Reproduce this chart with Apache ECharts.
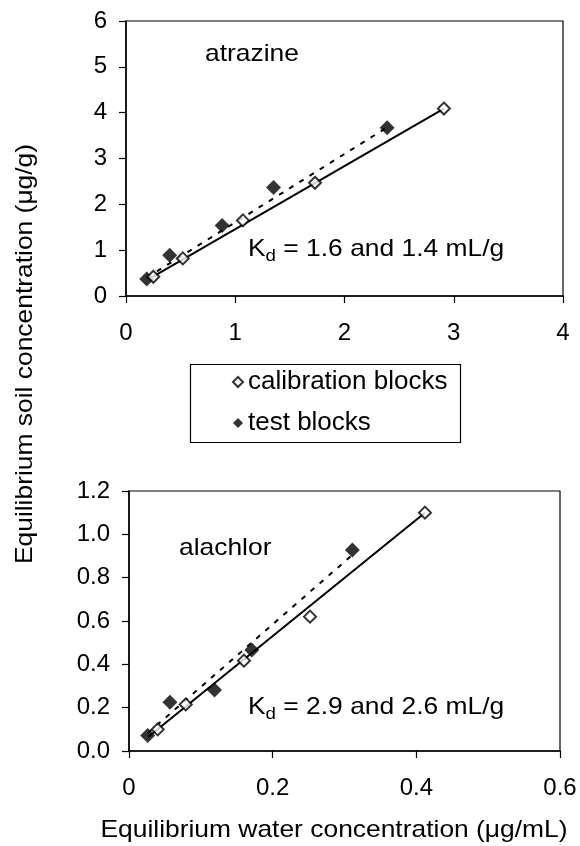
<!DOCTYPE html>
<html>
<head>
<meta charset="utf-8">
<script src="https://cdn.jsdelivr.net/npm/echarts@6/dist/echarts.min.js"></script>
<style>
html,body{margin:0;padding:0;background:#fff;}
#chart{width:580px;height:846px;}
</style>
</head>
<body>
<div id="chart"></div>
<script>
// ---- Data ----
// Atrazine panel
const atrazineCalX  = [0.25, 0.52, 1.07, 1.73, 2.91];
const atrazineCalY  = [0.42, 0.82, 1.65, 2.47, 4.09];
const atrazineTestX = [0.19, 0.40, 0.88, 1.35, 2.39];
const atrazineTestY = [0.37, 0.89, 1.54, 2.37, 3.67];
const atrazineCalFitX  = [0.24, 2.91];
const atrazineCalFitY  = [0.41, 4.09];
const atrazineTestFitX = [0.19, 2.39];
const atrazineTestFitY = [0.40, 3.68];
// Alachlor panel
const alachlorCalX  = [0.040, 0.079, 0.160, 0.252, 0.412];
const alachlorCalY  = [0.100, 0.215, 0.417, 0.620, 1.100];
const alachlorTestX = [0.026, 0.057, 0.119, 0.171, 0.311];
const alachlorTestY = [0.071, 0.225, 0.282, 0.466, 0.928];
const alachlorCalFitX  = [0.027, 0.412];
const alachlorCalFitY  = [0.066, 1.100];
const alachlorTestFitX = [0.026, 0.311];
const alachlorTestFitY = [0.082, 0.905];

const legendNames = ['calibration blocks', 'test blocks'];
const panelLabels = ['atrazine', 'alachlor'];
const kdLabels = ['= 1.6 and 1.4 mL/g', '= 2.9 and 2.6 mL/g'];
const xTitle = 'Equilibrium water concentration (\u03bcg/mL)';
const yTitle = 'Equilibrium soil concentration (\u03bcg/g)';

function pairs(xs, ys) { return xs.map((x, i) => [x, ys[i]]); }

const FONT = "'Liberation Sans', Arial, sans-serif";
const TICK_FS = 24;
const TXT_FS = 24;
const STRETCH = 1.1;

function valueAxis(gridIndex, min, max, interval, fmt, isX) {
  return {
    type: 'value', gridIndex, min, max, interval,
    axisLine: { show: true, onZero: false, lineStyle: { color: '#000', width: 1.5 } },
    axisTick: { show: true, inside: false, length: 7, lineStyle: { color: '#000', width: 1.2 } },
    axisLabel: { color: '#000', fontFamily: FONT, fontSize: TICK_FS, margin: isX ? 25 : 19, formatter: fmt },
    splitLine: { show: false }
  };
}

const openStyle = { color: '#fff', borderColor: '#000', borderWidth: 2 };
const filledStyle = { color: '#000', borderColor: '#000', borderWidth: 0 };

function panelSeries(idx, calX, calY, testX, testY, cfX, cfY, tfX, tfY) {
  return [
    { name: 'test fit', type: 'line', xAxisIndex: idx, yAxisIndex: idx, data: pairs(tfX, tfY),
      showSymbol: false, symbol: 'none', silent: true, z: 2,
      lineStyle: { color: '#000', width: 2, type: [5, 7] } },
    { name: 'calibration fit', type: 'line', xAxisIndex: idx, yAxisIndex: idx, data: pairs(cfX, cfY),
      showSymbol: false, symbol: 'none', silent: true, z: 2,
      lineStyle: { color: '#000', width: 2, type: 'solid' } },
    { name: legendNames[1], type: 'scatter', xAxisIndex: idx, yAxisIndex: idx, data: pairs(testX, testY),
      symbol: 'diamond', symbolSize: 15, itemStyle: filledStyle, z: 3 },
    { name: legendNames[0], type: 'scatter', xAxisIndex: idx, yAxisIndex: idx, data: pairs(calX, calY),
      symbol: 'diamond', symbolSize: 12, itemStyle: openStyle, z: 4 }
  ];
}

const kdRich = {
  k: { fontSize: TXT_FS, fontFamily: FONT, color: '#000' },
  d: { fontSize: 17, fontFamily: FONT, color: '#000', padding: [15, 0, 0, 0] },
  t: { fontSize: TXT_FS, fontFamily: FONT, color: '#000' }
};

const chart = echarts.init(document.getElementById('chart'), null, { renderer: 'canvas' });
chart.setOption({
  backgroundColor: '#fff',
  animation: false,
  grid: [
    { left: 126, top: 21, width: 437, height: 275, show: true, borderColor: '#000', borderWidth: 1.2, backgroundColor: 'transparent' },
    { left: 129, top: 491, width: 431, height: 260, show: true, borderColor: '#000', borderWidth: 1.2, backgroundColor: 'transparent' }
  ],
  xAxis: [
    valueAxis(0, 0, 4, 1, v => String(v), true),
    valueAxis(1, 0, 0.6, 0.2, v => (Math.abs(v) < 1e-9 ? '0' : v.toFixed(1)), true)
  ],
  yAxis: [
    valueAxis(0, 0, 6, 1, v => String(v), false),
    valueAxis(1, 0, 1.2, 0.2, v => v.toFixed(1), false)
  ],
  legend: {
    orient: 'vertical', left: 232, top: 369, padding: 0, itemGap: 15,
    itemWidth: 10, itemHeight: 10, selectedMode: false,
    textStyle: { color: '#000', fontFamily: FONT, fontSize: 26, lineHeight: 24 },
    data: [
      { name: legendNames[0], icon: 'diamond', itemStyle: { color: '#fff', borderColor: '#000', borderWidth: 2 } },
      { name: legendNames[1], icon: 'diamond', itemStyle: { color: '#000', borderColor: '#000', borderWidth: 0 } }
    ]
  },
  graphic: [
    { type: 'rect', left: 188, top: 362, shape: { width: 270, height: 78 }, style: { fill: 'none', stroke: '#000', lineWidth: 1.2 }, z: 1, silent: true },
    { type: 'text', x: 205, y: 54, scaleX: STRETCH, style: { text: panelLabels[0], fontFamily: FONT, fontSize: TXT_FS, fill: '#000', verticalAlign: 'middle' } },
    { type: 'text', x: 248, y: 249, scaleX: STRETCH, style: { text: '{k|K}{d|d}{t| ' + kdLabels[0] + '}', rich: kdRich, verticalAlign: 'middle' } },
    { type: 'text', x: 179, y: 548, scaleX: STRETCH, style: { text: panelLabels[1], fontFamily: FONT, fontSize: TXT_FS, fill: '#000', verticalAlign: 'middle' } },
    { type: 'text', x: 248, y: 707, scaleX: STRETCH, style: { text: '{k|K}{d|d}{t| ' + kdLabels[1] + '}', rich: kdRich, verticalAlign: 'middle' } },
    { type: 'text', x: 334, y: 830, scaleX: STRETCH, style: { text: xTitle, fontFamily: FONT, fontSize: TXT_FS, fill: '#000', align: 'center', verticalAlign: 'middle' } },
    { type: 'text', x: 25, y: 354, rotation: Math.PI / 2, scaleX: STRETCH, style: { text: yTitle, fontFamily: FONT, fontSize: TXT_FS, fill: '#000', align: 'center', verticalAlign: 'middle' } }
  ],
  series: [].concat(
    panelSeries(0, atrazineCalX, atrazineCalY, atrazineTestX, atrazineTestY,
                atrazineCalFitX, atrazineCalFitY, atrazineTestFitX, atrazineTestFitY),
    panelSeries(1, alachlorCalX, alachlorCalY, alachlorTestX, alachlorTestY,
                alachlorCalFitX, alachlorCalFitY, alachlorTestFitX, alachlorTestFitY)
  )
});
</script>
</body>
</html>
